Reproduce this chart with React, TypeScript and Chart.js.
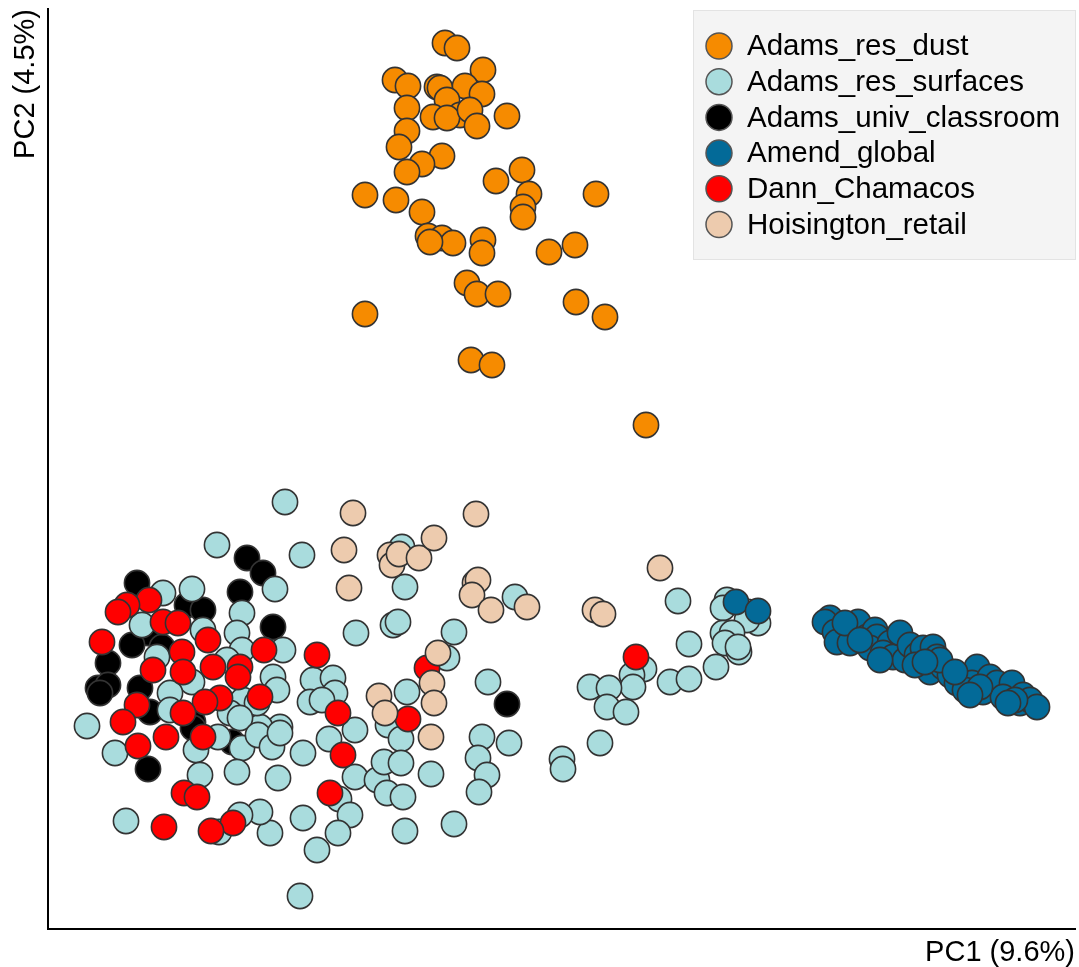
import { useEffect, useRef } from "react";
import { Chart, registerables } from "chart.js";

Chart.register(...registerables);

// PCA scores (PC1, PC2) in plot units
const seriesNames = [
  "Adams_res_dust",
  "Adams_res_surfaces",
  "Adams_univ_classroom",
  "Amend_global",
  "Dann_Chamacos",
  "Hoisington_retail",
];
const seriesColors = ["#F68B00", "#A9DCDD", "#000000", "#036A98", "#FF0000", "#EDCBAE"];
// draw order: higher = further back
const seriesOrder = [1, 5, 6, 2, 4, 3];

const xTitle = "PC1 (9.6%)";
const yTitle = "PC2 (4.5%)";
const xRange = [4.8, 107.5];
const yRange = [7.1, 99.1];

const adamsResDust: [number, number][] = [
  [44.5, 95.7], [45.7, 95.2], [48.3, 93.0], [39.5, 92.0], [40.8, 91.4], [43.7, 91.3],
  [44.0, 91.2], [46.5, 91.4], [48.2, 90.6], [44.7, 90.0], [40.7, 89.2], [43.3, 88.3],
  [46.0, 88.5], [44.7, 88.2], [47.0, 89.0], [47.7, 87.4], [50.7, 88.4], [40.7, 86.9],
  [39.9, 85.3], [44.2, 84.4], [42.2, 83.6], [40.7, 82.8], [52.2, 83.0], [49.6, 81.9],
  [52.9, 80.6], [52.3, 79.3], [52.3, 78.3], [36.5, 80.5], [39.6, 80.0], [42.2, 78.8],
  [59.6, 80.6], [42.8, 76.4], [44.2, 76.2], [45.3, 75.7], [43.0, 75.8], [48.3, 76.0],
  [48.2, 74.7], [54.9, 74.8], [57.5, 75.5], [46.7, 71.7], [47.7, 70.6], [49.8, 70.6],
  [57.6, 69.8], [60.5, 68.3], [36.5, 68.6], [47.1, 64.0], [49.2, 63.5], [64.6, 57.5],
];

const adamsResSurfaces: [number, number][] = [
  [21.7, 45.5], [30.2, 44.5], [27.5, 41.1], [19.2, 41.1], [16.3, 40.7], [24.2, 38.7],
  [20.3, 37.0], [14.2, 37.5], [23.7, 36.7], [24.2, 35.0], [28.3, 35.0], [19.2, 31.8],
  [27.3, 32.3], [27.7, 31.0], [31.3, 32.0], [31.0, 29.8], [17.0, 30.7], [24.3, 30.0],
  [23.0, 28.7], [8.7, 27.4], [28.0, 27.3], [26.0, 27.3], [15.7, 34.3], [22.7, 34.0],
  [17.0, 29.0], [25.7, 29.7],
  [11.5, 24.7], [19.6, 25.0], [20.0, 22.5], [21.8, 26.3], [24.2, 25.2], [23.7, 22.8],
  [24.0, 28.2], [25.8, 26.5], [27.2, 25.3], [28.0, 26.7], [27.8, 22.2], [30.3, 24.7],
  [32.9, 26.1], [35.5, 27.0], [35.5, 22.3], [33.9, 20.1], [35.0, 18.5], [33.8, 16.7],
  [31.7, 15.0], [30.3, 18.2], [27.0, 16.7], [26.0, 18.8], [24.0, 18.5], [21.9, 16.8],
  [12.6, 17.9], [30.0, 10.4],
  [28.5, 49.8], [40.2, 45.3], [40.5, 41.3], [51.5, 40.3], [35.6, 36.7], [39.3, 37.5],
  [39.8, 37.8], [45.4, 36.8], [44.7, 34.2], [48.8, 31.8], [40.7, 30.8], [33.3, 32.2],
  [33.5, 30.7], [32.2, 30.0],
  [38.8, 27.5], [40.1, 26.1], [48.2, 26.3], [50.9, 25.7], [47.8, 24.2], [48.7, 22.5],
  [47.9, 20.8], [56.2, 24.1], [56.3, 23.1], [60.0, 25.7], [37.7, 22.0], [38.4, 23.8],
  [40.1, 23.7], [38.7, 20.7], [40.3, 20.3], [43.1, 22.6], [40.5, 16.9], [45.4, 17.6],
  [67.8, 39.9], [72.7, 40.0], [72.3, 39.2], [74.8, 38.8], [75.8, 37.7], [74.7, 38.0],
  [72.3, 36.7], [73.2, 36.7], [72.5, 35.7], [73.9, 34.8], [73.8, 35.3], [68.9, 35.6],
  [71.6, 33.3], [64.4, 33.1], [63.2, 32.5], [63.3, 31.3], [67.0, 31.8], [68.9, 32.1],
  [59.0, 31.3], [60.9, 31.2], [60.7, 29.3], [62.6, 28.8],
];

const adamsUnivClassroom: [number, number][] = [
  [24.7, 44.2], [26.3, 42.7], [13.7, 41.7], [24.0, 40.8], [18.7, 39.5], [20.3, 39.0],
  [14.8, 36.7], [27.3, 37.3], [13.2, 35.5], [16.2, 35.3], [10.8, 33.7], [9.8, 31.2],
  [10.8, 31.5], [10.0, 30.7], [14.0, 31.2], [15.0, 28.8], [19.3, 27.8], [19.3, 27.2],
  [23.2, 25.8], [14.8, 23.1], [50.7, 29.6],
];

const amendGlobal: [number, number][] = [
  [73.6, 39.8], [75.8, 38.9],
  [83.0, 38.2], [82.5, 37.8], [83.5, 36.8], [83.7, 35.8], [85.2, 37.2], [85.8, 37.8],
  [85.0, 35.7], [84.5, 37.7], [86.7, 36.3], [87.5, 37.0], [87.7, 36.3], [87.0, 35.2],
  [89.0, 35.7], [88.3, 34.7], [89.3, 34.3], [90.0, 36.7], [90.5, 34.0], [91.0, 35.5],
  [91.7, 34.5], [92.3, 35.2], [93.3, 35.3], [93.7, 34.3], [93.0, 32.8], [94.3, 33.3],
  [95.0, 32.5], [95.7, 31.7], [96.3, 32.3], [97.7, 33.3], [97.2, 31.7], [98.3, 30.8],
  [99.0, 32.3], [99.7, 31.7], [101.2, 31.7], [100.3, 30.3], [102.0, 29.7], [102.3, 30.5],
  [103.0, 30.0], [103.7, 29.3], [86.0, 36.0], [94.0, 34.0], [101.5, 30.0], [96.5, 31.0],
  [88.0, 34.0], [91.5, 33.5], [95.5, 32.8], [98.0, 31.3], [100.8, 29.7], [97.0, 30.5],
  [92.5, 33.8],
];

const dannChamacos: [number, number][] = [
  [14.9, 40.0], [12.7, 39.5], [11.8, 38.8], [16.3, 37.8], [17.8, 37.7], [10.2, 35.8],
  [18.2, 34.8], [20.8, 36.0], [26.4, 35.0], [31.7, 34.5], [15.3, 33.0], [18.3, 32.8],
  [21.3, 33.3], [24.0, 33.3], [23.8, 32.3], [13.7, 29.5], [22.0, 30.2], [26.0, 30.3],
  [20.5, 29.8], [18.3, 28.7], [12.3, 27.8], [13.8, 25.4], [16.6, 26.3], [20.3, 26.3],
  [18.4, 20.7], [19.7, 20.3], [33.8, 28.7], [34.3, 24.5], [33.0, 20.7], [23.3, 17.7],
  [21.1, 16.9], [16.4, 17.3], [42.7, 33.2], [40.8, 28.1], [63.6, 34.3],
];

const hoisingtonRetail: [number, number][] = [
  [35.3, 48.7], [47.6, 48.6], [34.4, 45.0], [39.0, 44.5], [39.2, 43.5], [39.9, 44.6],
  [41.9, 44.2], [43.4, 46.2], [34.9, 41.2], [47.5, 41.7], [47.8, 42.0], [47.2, 40.5],
  [49.1, 39.0], [52.7, 39.3], [66.0, 43.2], [59.5, 39.0], [60.3, 38.6], [43.8, 34.7],
  [43.2, 31.7], [43.4, 29.7], [37.9, 30.4], [38.5, 28.7], [43.1, 26.3],
];

const seriesPoints = [
  adamsResDust,
  adamsResSurfaces,
  adamsUnivClassroom,
  amendGlobal,
  dannChamacos,
  hoisingtonRetail,
];

const FONT = "'Liberation Sans', Arial, Helvetica, sans-serif";

const boxLegend = {
  id: "boxLegend",
  afterDraw(chart: any) {
    const ctx = chart.ctx as CanvasRenderingContext2D;
    ctx.save();
    ctx.fillStyle = "#f4f4f4";
    ctx.strokeStyle = "#e3e3e3";
    ctx.lineWidth = 1;
    ctx.fillRect(693.5, 10.5, 382, 249);
    ctx.strokeRect(693.5, 10.5, 382, 249);
    seriesNames.forEach((name, i) => {
      const y = 46 + i * 35.7;
      ctx.beginPath();
      ctx.arc(719, y, 13, 0, Math.PI * 2);
      ctx.fillStyle = seriesColors[i];
      ctx.fill();
      ctx.lineWidth = 1.5;
      ctx.strokeStyle = "#555555";
      ctx.stroke();
      ctx.fillStyle = "#000000";
      ctx.font = `29.5px ${FONT}`;
      ctx.textBaseline = "middle";
      ctx.textAlign = "left";
      ctx.fillText(name, 747, y + 1);
    });
    ctx.restore();
  },
};

export default function App() {
  const canvasRef = useRef<HTMLCanvasElement | null>(null);

  useEffect(() => {
    if (!canvasRef.current) return;
    const chart = new Chart(canvasRef.current, {
      type: "scatter",
      data: {
        datasets: seriesNames.map((name, i) => ({
          label: name,
          data: seriesPoints[i].map(([x, y]) => ({ x, y })),
          backgroundColor: seriesColors[i],
          borderColor: "#333333",
          borderWidth: 1.6,
          pointRadius: 12.6,
          pointHoverRadius: 12.6,
          order: seriesOrder[i],
        })),
      },
      options: {
        responsive: false,
        animation: false,
        events: [],
        layout: { autoPadding: false, padding: { left: 8, top: 9, right: 4, bottom: 0 } },
        plugins: {
          legend: { display: false },
          tooltip: { enabled: false },
        },
        scales: {
          x: {
            type: "linear",
            min: xRange[0],
            max: xRange[1],
            grid: { display: false },
            ticks: { display: false },
            border: { display: true, color: "#000000", width: 2 },
            title: {
              display: true,
              text: xTitle,
              align: "end",
              color: "#000000",
              font: { size: 29, family: FONT, lineHeight: 1 },
              padding: { top: 0, bottom: 0 },
            },
            afterFit: (s: any) => {
              s.height = 38;
            },
          },
          y: {
            type: "linear",
            min: yRange[0],
            max: yRange[1],
            grid: { display: false },
            ticks: { display: false },
            border: { display: true, color: "#000000", width: 2 },
            title: {
              display: true,
              text: yTitle,
              align: "end",
              color: "#000000",
              font: { size: 29, family: FONT, lineHeight: 1 },
              padding: { top: 3, bottom: 0 },
            },
            afterFit: (s: any) => {
              s.width = 40;
            },
          },
        },
      },
      plugins: [boxLegend],
    });
    return () => chart.destroy();
  }, []);

  return (
    <div style={{ position: "fixed", left: 0, top: 0, width: 1079, height: 967, background: "#ffffff" }}>
      <canvas ref={canvasRef} width={1079} height={967} />
    </div>
  );
}
